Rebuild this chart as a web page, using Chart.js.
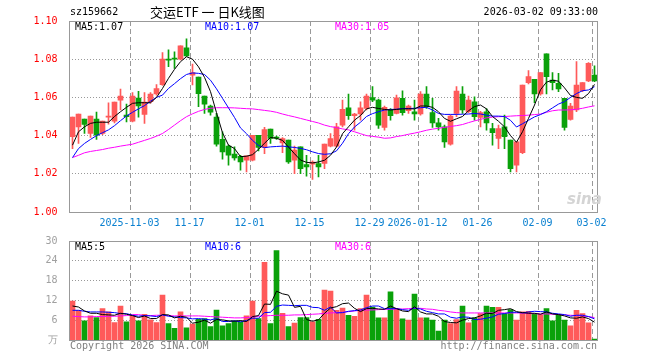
<!DOCTYPE html>
<html>
<head>
<meta charset="utf-8">
<script src="https://cdn.jsdelivr.net/npm/chart.js"></script>
<style>
body { margin: 0; background: #fff; }
#wrap { position: relative; width: 660px; height: 360px; overflow: hidden; font-family: "DejaVu Sans Mono", monospace; font-size: 10px; }
canvas { position: absolute; left: 0; top: 0; }
.t { position: absolute; white-space: nowrap; line-height: 12px; }
</style>
</head>
<body>
<div id="wrap">
  <canvas id="price" width="660" height="360"></canvas>
  <canvas id="vol" width="660" height="360"></canvas>
  <div class="t" style="left:70px;top:6px;">sz159662</div>
  <div class="t" style="left:150px;top:4px;line-height:16px;font-family:'Noto Sans CJK SC';font-size:13px;">交运ETF 一 日K线图</div>
  <div class="t" style="right:62px;top:6px;">2026-03-02 09:33:00</div>
  <div class="t" style="left:75px;top:21px;color:#000;">MA5:1.07</div>
  <div class="t" style="left:205px;top:21px;color:#0000ff;">MA10:1.07</div>
  <div class="t" style="left:335px;top:21px;color:#ff00ff;">MA30:1.05</div>
  <div class="t" style="left:75px;top:241px;color:#000;">MA5:5</div>
  <div class="t" style="left:205px;top:241px;color:#0000ff;">MA10:6</div>
  <div class="t" style="left:335px;top:241px;color:#ff00ff;">MA30:6</div>
  <div class="t" style="left:567px;top:190px;font:italic bold 15px 'DejaVu Sans';color:#d4d4d4;">sina</div>
  <div class="t" style="left:70px;top:340px;color:#808080;">Copyright 2026 SINA.COM</div>
  <div class="t" style="right:63px;top:340px;color:#808080;">http://finance.sina.com.cn</div>
</div>
<script>
var dates = [
  '2025-10-20','2025-10-21','2025-10-22','2025-10-23','2025-10-24',
  '2025-10-27','2025-10-28','2025-10-29','2025-10-30','2025-10-31',
  '2025-11-03','2025-11-04','2025-11-05','2025-11-06','2025-11-07',
  '2025-11-10','2025-11-11','2025-11-12','2025-11-13','2025-11-14',
  '2025-11-17','2025-11-18','2025-11-19','2025-11-20','2025-11-21',
  '2025-11-24','2025-11-25','2025-11-26','2025-11-27','2025-11-28',
  '2025-12-01','2025-12-02','2025-12-03','2025-12-04','2025-12-05',
  '2025-12-08','2025-12-09','2025-12-10','2025-12-11','2025-12-12',
  '2025-12-15','2025-12-16','2025-12-17','2025-12-18','2025-12-19',
  '2025-12-22','2025-12-23','2025-12-24','2025-12-25','2025-12-26',
  '2025-12-29','2025-12-30','2025-12-31',
  '2026-01-05','2026-01-06','2026-01-07','2026-01-08','2026-01-09',
  '2026-01-12','2026-01-13','2026-01-14','2026-01-15','2026-01-16',
  '2026-01-19','2026-01-20','2026-01-21','2026-01-22','2026-01-23',
  '2026-01-26','2026-01-27','2026-01-28','2026-01-29','2026-01-30',
  '2026-02-02','2026-02-03','2026-02-04','2026-02-05','2026-02-06',
  '2026-02-09','2026-02-10','2026-02-11','2026-02-12','2026-02-13',
  '2026-02-24','2026-02-25','2026-02-26','2026-02-27',
  '2026-03-02'
];

var opens = [
  1.0394,1.0446,1.0486,1.0411,1.0486,1.0411,1.0497,1.0476,1.0586,1.0507,
  1.0476,1.0597,1.0511,1.0577,1.0618,1.0667,1.0800,1.0805,1.0800,1.0859,
  1.0717,1.0707,1.0607,1.0555,1.0497,1.0381,1.0345,1.0303,1.0292,1.0271,
  1.0271,1.0402,1.0338,1.0434,1.0392,1.0362,1.0376,1.0271,1.0341,1.0248,
  1.0250,1.0254,1.0254,1.0345,1.0345,1.0455,1.0546,1.0504,1.0513,1.0542,
  1.0599,1.0586,1.0443,1.0534,1.0516,1.0595,1.0530,1.0525,1.0513,1.0618,
  1.0520,1.0467,1.0446,1.0355,1.0516,1.0618,1.0525,1.0577,1.0495,1.0525,
  1.0437,1.0385,1.0446,1.0376,1.0245,1.0310,1.0677,1.0695,1.0618,1.0828,
  1.0691,1.0674,1.0595,1.0485,1.0534,1.0635,1.0686,1.0717
];
var closes = [
  1.0497,1.0513,1.0458,1.0502,1.0402,1.0476,1.0500,1.0576,1.0607,1.0499,
  1.0607,1.0556,1.0576,1.0618,1.0646,1.0800,1.0795,1.0800,1.0870,1.0817,
  1.0730,1.0619,1.0565,1.0523,1.0355,1.0315,1.0297,1.0283,1.0262,1.0294,
  1.0402,1.0338,1.0432,1.0385,1.0387,1.0385,1.0262,1.0324,1.0227,1.0236,
  1.0262,1.0236,1.0355,1.0385,1.0446,1.0537,1.0504,1.0513,1.0546,1.0607,
  1.0586,1.0455,1.0548,1.0504,1.0598,1.0520,1.0555,1.0513,1.0618,1.0551,
  1.0467,1.0446,1.0367,1.0502,1.0633,1.0534,1.0586,1.0499,1.0520,1.0467,
  1.0415,1.0437,1.0394,1.0227,1.0367,1.0665,1.0709,1.0618,1.0730,1.0709,
  1.0677,1.0644,1.0443,1.0555,1.0665,1.0677,1.0779,1.0686
];
var highs = [
  1.0497,1.0513,1.0486,1.0502,1.0523,1.0476,1.0572,1.0576,1.0644,1.0565,
  1.0625,1.0632,1.0625,1.0625,1.0667,1.0835,1.0849,1.0838,1.0870,1.0906,
  1.0775,1.0707,1.0607,1.0560,1.0516,1.0420,1.0350,1.0341,1.0297,1.0294,
  1.0402,1.0402,1.0443,1.0434,1.0397,1.0390,1.0376,1.0345,1.0341,1.0297,
  1.0268,1.0297,1.0355,1.0411,1.0464,1.0586,1.0618,1.0516,1.0577,1.0618,
  1.0656,1.0591,1.0555,1.0542,1.0612,1.0635,1.0560,1.0586,1.0630,1.0656,
  1.0595,1.0490,1.0455,1.0507,1.0656,1.0656,1.0607,1.0603,1.0527,1.0542,
  1.0464,1.0455,1.0507,1.0376,1.0367,1.0665,1.0740,1.0695,1.0730,1.0828,
  1.0730,1.0726,1.0595,1.0569,1.0787,1.0677,1.0782,1.0765
];
var lows = [
  1.0332,1.0359,1.0411,1.0390,1.0380,1.0405,1.0460,1.0467,1.0534,1.0472,
  1.0471,1.0497,1.0464,1.0570,1.0612,1.0663,1.0761,1.0752,1.0796,1.0814,
  1.0665,1.0551,1.0516,1.0507,1.0345,1.0276,1.0245,1.0271,1.0219,1.0210,
  1.0268,1.0320,1.0306,1.0359,1.0380,1.0310,1.0254,1.0201,1.0201,1.0187,
  1.0170,1.0184,1.0227,1.0341,1.0341,1.0446,1.0485,1.0429,1.0481,1.0534,
  1.0577,1.0437,1.0429,1.0481,1.0513,1.0507,1.0516,1.0481,1.0507,1.0542,
  1.0443,1.0429,1.0338,1.0350,1.0499,1.0516,1.0520,1.0481,1.0446,1.0429,
  1.0350,1.0332,1.0332,1.0210,1.0210,1.0306,1.0670,1.0572,1.0612,1.0618,
  1.0639,1.0630,1.0429,1.0481,1.0525,1.0630,1.0682,1.0682
];

var ma5 = [
  1.0350,1.0420,1.0446,1.0464,1.0470,1.0470,1.0470,1.0500,1.0525,1.0548,
  1.0569,1.0572,1.0572,1.0572,1.0600,1.0647,1.0700,1.0747,1.0787,1.0813,
  1.0800,1.0760,1.0705,1.0630,1.0520,1.0415,1.0350,1.0332,1.0290,1.0292,
  1.0300,1.0328,1.0360,1.0390,1.0386,1.0375,1.0340,1.0305,1.0272,1.0260,
  1.0257,1.0262,1.0271,1.0297,1.0340,1.0410,1.0446,1.0481,1.0505,1.0540,
  1.0548,1.0542,1.0537,1.0534,1.0537,1.0540,1.0540,1.0540,1.0555,1.0555,
  1.0548,1.0525,1.0490,1.0475,1.0488,1.0500,1.0530,1.0552,1.0560,1.0540,
  1.0500,1.0475,1.0446,1.0400,1.0365,1.0420,1.0490,1.0560,1.0640,1.0680,
  1.0690,1.0685,1.0650,1.0610,1.0600,1.0595,1.0620,1.0668
];
var ma10 = [
  1.0285,1.0332,1.0359,1.0380,1.0400,1.0415,1.0430,1.0452,1.0478,1.0503,
  1.0522,1.0540,1.0557,1.0580,1.0600,1.0612,1.0647,1.0672,1.0698,1.0720,
  1.0728,1.0726,1.0720,1.0690,1.0645,1.0595,1.0545,1.0495,1.0440,1.0410,
  1.0375,1.0348,1.0337,1.0341,1.0343,1.0345,1.0341,1.0338,1.0333,1.0326,
  1.0315,1.0306,1.0302,1.0305,1.0320,1.0360,1.0410,1.0445,1.0470,1.0500,
  1.0515,1.0525,1.0534,1.0537,1.0538,1.0542,1.0542,1.0543,1.0546,1.0548,
  1.0534,1.0516,1.0511,1.0511,1.0511,1.0512,1.0513,1.0516,1.0513,1.0507,
  1.0502,1.0502,1.0500,1.0480,1.0445,1.0462,1.0480,1.0498,1.0510,1.0525,
  1.0545,1.0565,1.0578,1.0600,1.0620,1.0635,1.0639,1.0656
];
var ma30 = [
  1.0285,1.0297,1.0310,1.0317,1.0322,1.0327,1.0334,1.0339,1.0345,1.0350,
  1.0355,1.0365,1.0375,1.0385,1.0397,1.0411,1.0432,1.0455,1.0478,1.0499,
  1.0514,1.0527,1.0537,1.0543,1.0546,1.0546,1.0546,1.0545,1.0543,1.0541,
  1.0540,1.0536,1.0532,1.0528,1.0522,1.0513,1.0505,1.0498,1.0490,1.0482,
  1.0474,1.0466,1.0455,1.0447,1.0442,1.0435,1.0430,1.0420,1.0410,1.0400,
  1.0396,1.0392,1.0386,1.0388,1.0395,1.0400,1.0407,1.0413,1.0420,1.0428,
  1.0434,1.0438,1.0443,1.0448,1.0452,1.0458,1.0468,1.0477,1.0485,1.0493,
  1.0497,1.0499,1.0500,1.0502,1.0504,1.0505,1.0507,1.0510,1.0513,1.0522,
  1.0530,1.0534,1.0534,1.0535,1.0538,1.0543,1.0550,1.0556
];

var volumes = [
  11.8,9.0,5.8,7.3,6.8,9.5,8.5,5.3,10.3,5.5,
  7.3,5.8,7.8,6.1,5.3,13.6,5.0,3.5,8.5,3.7,
  4.8,6.3,6.5,4.1,9.1,4.3,5.0,5.8,5.5,7.3,
  11.8,6.5,23.5,5.0,27.1,8.1,4.1,5.1,6.8,6.8,
  5.5,6.3,15.1,14.8,9.0,9.7,7.5,7.2,9.5,13.6,
  10.0,6.7,6.7,14.6,9.5,6.4,6.0,13.9,6.7,6.7,
  6.0,2.7,6.0,5.0,6.2,10.3,5.2,6.7,8.0,10.3,
  9.9,9.9,8.0,9.2,6.0,8.5,8.7,8.0,7.7,9.5,
  5.8,7.7,6.0,4.3,9.0,8.0,5.2,0.3
];
var volMa5 = [
  10.3,10.0,8.8,8.1,8.1,7.7,7.6,7.5,8.1,7.8,
  7.4,6.8,7.3,6.5,6.5,7.7,7.6,6.7,7.2,6.9,
  5.1,5.4,6.0,5.1,6.2,6.1,5.8,5.7,5.9,5.6,
  7.1,7.4,10.9,10.8,14.8,14.0,13.6,9.9,10.2,6.2,
  5.7,6.1,8.1,9.7,10.1,11.0,11.2,9.6,8.6,9.5,
  9.6,9.4,9.3,10.3,9.5,8.8,8.6,10.1,8.5,7.9,
  7.9,7.2,5.6,5.3,5.2,6.0,6.5,6.7,7.3,8.1,
  8.0,9.0,9.2,9.5,8.6,8.3,8.1,8.1,7.8,8.5,
  7.9,7.7,7.3,6.7,6.6,7.0,6.5,5.4
];
var volMa10 = [
  9.0,9.0,8.7,8.5,8.5,8.5,8.4,8.3,8.0,8.0,
  7.5,7.2,7.4,7.3,7.1,7.6,7.2,7.0,6.8,6.7,
  6.4,6.5,6.3,6.1,6.5,5.6,5.6,5.8,5.5,5.9,
  6.6,6.6,8.3,8.4,10.2,10.6,10.5,10.4,10.5,10.5,
  9.9,9.8,9.0,10.0,8.2,8.3,8.7,8.9,9.1,9.8,
  10.3,10.3,9.5,9.5,9.5,9.2,9.0,9.7,9.4,8.7,
  8.3,7.9,7.9,6.9,6.6,7.0,6.9,6.2,6.3,6.6,
  7.0,7.8,8.0,8.4,8.4,8.2,8.5,8.7,8.6,8.5,
  8.1,7.9,7.7,7.2,7.5,7.5,7.1,6.4
];
var volMa30 = [
  7.2,7.1,7.0,7.0,7.1,7.1,7.2,7.2,7.3,7.4,
  7.7,7.7,7.4,7.4,7.5,7.5,7.4,7.3,7.3,7.3,
  7.3,7.3,7.2,7.1,7.0,6.9,6.8,6.7,6.7,6.8,
  7.0,7.2,7.3,7.4,7.5,7.5,7.5,7.6,7.6,7.7,
  7.8,7.9,8.1,8.2,8.3,8.4,8.6,8.8,9.0,9.1,
  9.1,9.2,9.3,9.3,9.4,9.4,9.5,9.6,9.6,9.4,
  9.3,9.0,8.8,8.5,8.3,8.2,8.2,8.2,8.2,8.2,
  8.2,8.2,8.2,8.2,8.2,8.2,8.0,8.0,7.9,7.9,
  7.8,7.7,7.6,7.5,7.4,7.3,7.1,6.8
];

var tickDates = ['2025-11-03','2025-11-17','2025-12-01','2025-12-15','2025-12-29','2026-01-12','2026-01-26','2026-02-09','2026-03-02'];
var tickText = ['2025-11-03','11-17','12-01','12-15','12-29','2026-01-12','01-26','02-09','03-02'];
var priceTicks = [1.00, 1.02, 1.04, 1.06, 1.08, 1.10];
var volTicks = [0, 6, 12, 18, 24, 30];

var UP = '#ff5a5a', DOWN = '#0aa10a';
var candleColors = closes.map(function (c, i) { return c >= opens[i] ? UP : DOWN; });

var tickAt = {};
tickDates.forEach(function (d, k) { tickAt[dates.indexOf(d)] = tickText[k]; });

// box round the plot area
var frame = {
  id: 'frame',
  afterDraw: function (chart) {
    var a = chart.chartArea, ctx = chart.ctx;
    ctx.save();
    ctx.strokeStyle = '#999';
    ctx.lineWidth = 1;
    var l = Math.floor(a.left) + 0.5, t = Math.floor(a.top) + 0.5;
    var r = Math.floor(a.right) + 0.5, b = Math.floor(a.bottom) + 0.5;
    ctx.strokeRect(l, t, r - l, b - t);
    ctx.restore();
  }
};

// dotted value lines and dashed date lines, placed through the scales
var gridLines = {
  id: 'gridLines',
  beforeDatasetsDraw: function (chart, args, opts) {
    var ctx = chart.ctx, a = chart.chartArea;
    var xs = chart.scales.x, ys = chart.scales.y;
    var l = Math.floor(a.left), r = Math.ceil(a.right);
    var t = Math.floor(a.top), b = Math.ceil(a.bottom);
    ctx.save();
    ctx.lineWidth = 1;
    ctx.strokeStyle = '#999';
    ctx.setLineDash([1, 2]);
    opts.values.forEach(function (v) {
      var y = Math.floor(ys.getPixelForValue(v)) + 0.5;
      ctx.beginPath(); ctx.moveTo(l, y); ctx.lineTo(r, y); ctx.stroke();
    });
    ctx.setLineDash([5, 3]);
    var half = (xs.getPixelForValue(1) - xs.getPixelForValue(0)) / 2;
    tickDates.forEach(function (d) {
      var x = Math.round(xs.getPixelForValue(dates.indexOf(d)) - half) + 0.5;
      ctx.beginPath(); ctx.moveTo(x, t); ctx.lineTo(x, b); ctx.stroke();
    });
    ctx.restore();
  }
};

function xAxis(showLabels, h) {
  return {
    type: 'category',
    offset: true,
    grid: { display: false },
    border: { display: false },
    ticks: {
      display: showLabels,
      autoSkip: false,
      maxRotation: 0,
      padding: -3,
      labelOffset: -3,
      color: '#0a80d0',
      font: { family: 'DejaVu Sans Mono', size: 10 },
      callback: function (v, i) { return tickAt[i] || ''; }
    },
    afterFit: function (s) { s.height = h; }
  };
}

function yAxis(lo, hi, values, color, fmt) {
  return {
    min: lo, max: hi,
    afterBuildTicks: function (s) { s.ticks = values.map(function (v) { return { value: v }; }); },
    grid: { display: false },
    border: { display: false },
    ticks: {
      padding: 4, color: color,
      font: { family: 'DejaVu Sans Mono', size: 10 },
      callback: fmt
    },
    afterFit: function (s) { s.width = 69.5; }
  };
}

function line(data, color) {
  return { type: 'line', data: data, borderColor: color, borderWidth: 1, pointRadius: 0, tension: 0, fill: false };
}

Chart.defaults.animation = false;

new Chart('price', {
  type: 'bar',
  data: {
    labels: dates,
    datasets: [
      line(ma5, '#000000'),
      line(ma10, '#0000ff'),
      line(ma30, '#ff00ff'),
      {
        data: opens.map(function (o, i) { return [o, closes[i]]; }),
        backgroundColor: candleColors,
        barThickness: 5, grouped: false, minBarLength: 1, borderWidth: 0
      },
      {
        data: lows.map(function (l, i) { return [l, highs[i]]; }),
        backgroundColor: candleColors,
        barThickness: 1, grouped: false, borderWidth: 0
      }
    ]
  },
  options: {
    responsive: false,
    devicePixelRatio: 1,
    layout: { padding: { top: 21, right: 62.5, bottom: 128, left: 0 } },
    plugins: { legend: { display: false }, tooltip: { enabled: false }, gridLines: { values: priceTicks } },
    scales: {
      x: xAxis(true, 20),
      y: yAxis(1.00, 1.10, priceTicks, '#ff0000', function (v) { return Number(v).toFixed(2); })
    }
  },
  plugins: [gridLines, frame]
});

new Chart('vol', {
  type: 'bar',
  data: {
    labels: dates,
    datasets: [
      line(volMa5, '#000000'),
      line(volMa10, '#0000ff'),
      line(volMa30, '#ff00ff'),
      { data: volumes, backgroundColor: candleColors, barThickness: 5, borderWidth: 0 }
    ]
  },
  options: {
    responsive: false,
    devicePixelRatio: 1,
    layout: { padding: { top: 241, right: 62.5, bottom: 20, left: 0 } },
    plugins: { legend: { display: false }, tooltip: { enabled: false }, gridLines: { values: volTicks } },
    scales: {
      x: xAxis(false, 0),
      y: yAxis(0, 30, volTicks, '#a0a0a0', function (v) { return v === 0 ? '万' : v; })
    }
  },
  plugins: [gridLines, frame]
});
</script>
</body>
</html>
